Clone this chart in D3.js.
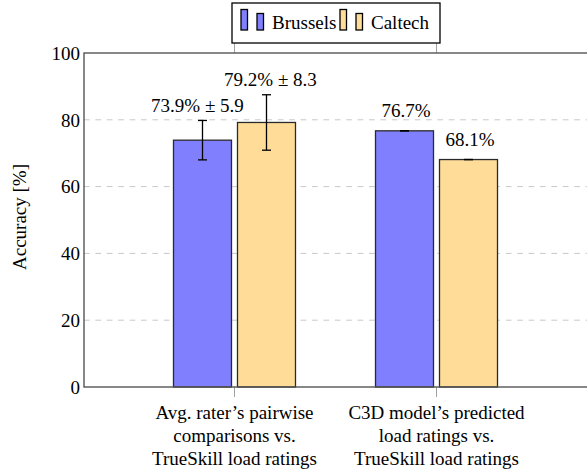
<!DOCTYPE html>
<html>
<head>
<meta charset="utf-8">
<script src="https://cdn.jsdelivr.net/npm/d3@7/dist/d3.min.js"></script>
</head>
<body style="margin:0">
<svg id="s" width="587" height="473" font-family="Times New Roman, Liberation Serif, Tinos, serif"></svg>
<script>
// Accuracy per comparison, for the two datasets
const categories = ["pairwise", "c3d"];
const categoryLines = [
  ["Avg. rater’s pairwise", "comparisons vs.", "TrueSkill load ratings"],
  ["C3D model’s predicted", "load ratings vs.", "TrueSkill load ratings"]
];
const seriesNames = ["Brussels", "Caltech"];
const brusselsValues = [73.9, 76.7];
const brusselsErrors = [5.9, 0];
const caltechValues = [79.2, 68.1];
const caltechErrors = [8.3, 0];
const yTicks = [0, 20, 40, 60, 80, 100];

const seriesColors = ["#8080ff", "#ffdd99"];
const series = [
  { name: seriesNames[0], values: brusselsValues, errors: brusselsErrors, color: seriesColors[0], nudge: -5 },
  { name: seriesNames[1], values: caltechValues, errors: caltechErrors, color: seriesColors[1], nudge: 4 }
];

const s = d3.select("#s");
const plot = { left: 84, right: 589, top: 53, bottom: 387 };
const fontSize = 19;

const x = d3.scalePoint().domain(categories).range([plot.left, plot.right - 2]).padding(0.745);
const y = d3.scaleLinear().domain([0, 100]).range([plot.bottom, plot.top]);

const barWidth = 58;
const offsets = [-32, 32];

// separate layers so text can be added in any order but drawn on top
const gridLayer = s.append("g");
const markLayer = s.append("g");
const frameLayer = s.append("g");
const textLayer = s.append("g");

function addText(str) {
  const t = textLayer.append("text").attr("font-size", fontSize);
  t.style("font-family", '"Times New Roman"');
  t.text(str);
  return t;
}

// dashed horizontal grid
yTicks.filter(t => t > 0 && t < 100).forEach(d => {
  gridLayer.append("line")
    .attr("x1", plot.left).attr("x2", plot.right)
    .attr("y1", y(d)).attr("y2", y(d))
    .attr("stroke", "#c8c8c8").attr("stroke-width", 1)
    .attr("stroke-dasharray", "5.7,5.7");
});

// category tick marks above and below the frame
categories.forEach(c => {
  gridLayer.append("line").attr("x1", x(c)).attr("x2", x(c))
    .attr("y1", plot.top).attr("y2", plot.top - 10)
    .attr("stroke", "#a0a0a0").attr("stroke-width", 1);
  gridLayer.append("line").attr("x1", x(c)).attr("x2", x(c))
    .attr("y1", plot.bottom).attr("y2", plot.bottom + 10)
    .attr("stroke", "#a0a0a0").attr("stroke-width", 1);
});

// bars, error bars and value labels
series.forEach((sr, si) => {
  categories.forEach((c, i) => {
    const cx = x(c) + offsets[si];
    const v = sr.values[i], e = sr.errors[i];
    markLayer.append("rect")
      .attr("x", cx - barWidth / 2).attr("width", barWidth)
      .attr("y", y(v)).attr("height", y(0) - y(v))
      .attr("fill", sr.color).attr("stroke", "#2a2a2a").attr("stroke-width", 1.3);
    const capW = 4.5;
    markLayer.append("line").attr("x1", cx).attr("x2", cx)
      .attr("y1", y(v - e)).attr("y2", y(v + e))
      .attr("stroke", "#000").attr("stroke-width", 1.3);
    [v - e, v + e].forEach(t => {
      markLayer.append("line").attr("x1", cx - capW).attr("x2", cx + capW)
        .attr("y1", y(t)).attr("y2", y(t))
        .attr("stroke", "#000").attr("stroke-width", 1.3);
    });
    const label = e > 0 ? `${v.toFixed(1)}% \u00b1 ${e.toFixed(1)}` : `${v.toFixed(1)}%`;
    addText(label)
      .attr("x", cx + (e > 0 ? sr.nudge : 1.5))
      .attr("y", y(v + e) - (e > 0 ? 8.5 : 13.7))
      .attr("text-anchor", "middle");
  });
});

// axis frame
frameLayer.append("rect")
  .attr("x", plot.left).attr("y", plot.top)
  .attr("width", plot.right - plot.left).attr("height", plot.bottom - plot.top)
  .attr("fill", "none").attr("stroke", "#555").attr("stroke-width", 1.4);

// y tick labels
yTicks.forEach(d => {
  addText(String(d))
    .attr("x", plot.left - 4)
    .attr("y", y(d) + 6.8)
    .attr("text-anchor", "end");
});

// y axis title
addText("Accuracy [%]")
  .attr("transform", `translate(26,${(plot.top + plot.bottom) / 2 - 3}) rotate(-90)`)
  .attr("text-anchor", "middle");

// category labels, one text per line
categories.forEach((c, i) => {
  categoryLines[i].forEach((line, li) => {
    addText(line)
      .attr("x", x(c))
      .attr("y", plot.bottom + 32 + li * 23)
      .attr("text-anchor", "middle");
  });
});

// legend
frameLayer.append("rect")
  .attr("x", 232).attr("y", 3).attr("width", 208).attr("height", 40)
  .attr("fill", "#fff").attr("stroke", "#000").attr("stroke-width", 1.3);
const legendX = [241, 340];
series.forEach((sr, si) => {
  const lx = legendX[si];
  [[0, 20.5], [16, 16.5]].forEach(([dx, h]) => {
    frameLayer.append("rect")
      .attr("x", lx + dx).attr("y", 30 - h)
      .attr("width", 6.5).attr("height", h)
      .attr("fill", sr.color).attr("stroke", "#000").attr("stroke-width", 1.3);
  });
  addText(sr.name).attr("x", lx + 31).attr("y", 29.3);
});
</script>
</body>
</html>
